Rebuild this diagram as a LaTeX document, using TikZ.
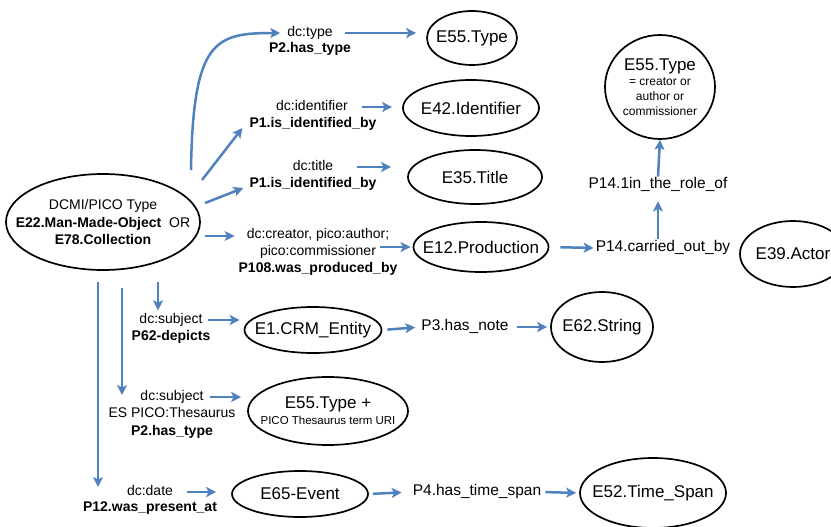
\documentclass[tikz,border=0pt]{standalone}
\usepackage{fontspec}
\setmainfont{Liberation Sans}
\usetikzlibrary{shapes.geometric,arrows.meta}
\definecolor{linkblue}{RGB}{79,129,189}

\tikzset{
    ent/.style={draw, ellipse, line width=1.7pt, inner xsep=-30pt, inner ysep=0pt,
        align=center, font=\fontsize{17}{20}\selectfont},
    lbl/.style={inner sep=1pt, text height=10pt, text depth=3pt, font=\fontsize{14}{17}\selectfont},
    rel/.style={inner sep=1pt, text height=11pt, text depth=3.5pt, font=\fontsize{15.5}{18}\selectfont},
    link/.style={draw=linkblue, line width=2.5pt, shorten <=4pt, shorten >=4pt,
        -{Stealth[length=10pt,width=10pt,inset=2.5pt]}},
}

\begin{document}
\begin{tikzpicture}[x=1pt,y=-1pt]
    \useasboundingbox (0,0) rectangle (831,527);
    % The classes (ellipses).
        \node[ent, minimum width=194pt, minimum height=96pt, font=\fontsize{14}{17.5}\selectfont] (main) at (103,222)
            {DCMI/PICO Type\\\textbf{E22.Man-Made-Object}\ \ OR\\\textbf{E78.Collection}};
        \node[ent, minimum width=90pt, minimum height=54pt] (type) at (472,38) {E55.Type};
        \node[ent, minimum width=136pt, minimum height=56pt] (ident) at (471,108) {E42.Identifier};
        \node[ent, minimum width=134pt, minimum height=54pt] (title) at (475,177) {E35.Title};
        \node[ent, minimum width=135pt, minimum height=50pt] (prod) at (481,247) {E12.Production};
        \node[ent, minimum width=110pt, minimum height=104pt, font=\fontsize{12}{15}\selectfont] (role) at (660,87)
            {{\fontsize{17}{20}\selectfont E55.Type}\\= creator or\\author or\\commissioner};
        \node[ent, minimum width=106pt, minimum height=66pt] (actor) at (793,254) {E39.Actor};
        \node[ent, minimum width=137pt, minimum height=46pt] (crm) at (313,330) {E1.CRM\_Entity};
        \node[ent, minimum width=102pt, minimum height=70pt] (string) at (602,327) {E62.String};
        \node[ent, minimum width=160pt, minimum height=68pt, font=\fontsize{11.5}{16}\selectfont] (thes) at (328,411)
            {{\fontsize{17}{20}\selectfont E55.Type +}\\PICO Thesaurus term URI};
        \node[ent, minimum width=136pt, minimum height=46pt] (event) at (300,494) {E65-Event};
        \node[ent, minimum width=146pt, minimum height=70pt] (span) at (653,493) {E52.Time\_Span};
    % Below nodes are the property labels.
        \node[lbl] (typea) at (310,33) {dc:type};
        \node[lbl] (typeb) at (310,49) {\textbf{P2.has\_type}};
        \node[lbl] (identa) at (312,107) {dc:identifier};
        \node[lbl] (identb) at (313,124) {\textbf{P1.is\_identified\_by}};
        \node[lbl] (titlea) at (313,167) {dc:title};
        \node[lbl] (titleb) at (313,184) {\textbf{P1.is\_identified\_by}};
        \node[lbl] (proda) at (318,235) {dc:creator, pico:author;};
        \node[lbl] (prodb) at (318,252) {pico:commissioner};
        \node[lbl] (prodc) at (318,269) {\textbf{P108.was\_produced\_by}};
        \node[lbl] (depa) at (171,320) {dc:subject};
        \node[lbl] (depb) at (171,337) {\textbf{P62-depicts}};
        \node[lbl] (thesa) at (172,397) {dc:subject};
        \node[lbl] (thesb) at (172,414) {ES PICO:Thesaurus};
        \node[lbl] (thesc) at (172,432) {\textbf{P2.has\_type}};
        \node[lbl] (datea) at (150,492) {dc:date};
        \node[lbl] (dateb) at (150,508) {\textbf{P12.was\_present\_at}};
        \node[rel] (carried) at (663,248) {P14.carried\_out\_by};
        \node[rel] (roleof) at (658,185) {P14.1in\_the\_role\_of};
        \node[rel] (note) at (465,327) {P3.has\_note};
        \node[rel] (tspan) at (477,492) {P4.has\_time\_span};
    % Where the arrows leave the main class.
        \coordinate (otype) at (191,170);
        \coordinate (oident) at (202,180);
        \coordinate (otitle) at (205,203);
        \coordinate (oprod) at (205,236);
        \coordinate (odate) at (98,282);
        \coordinate (othes) at (122,288);
        \coordinate (odep) at (158,282);
    % Arrows out of the main class.
        \draw[link, shorten <=0pt, shorten >=6pt] (otype) .. controls (193,40) and (215,33) .. (typea.west);
        \draw[link, shorten <=0pt, shorten >=0pt] (oident) -- ([xshift=-6pt,yshift=-4pt]identb.west);
        \draw[link, shorten <=0pt, shorten >=0pt] (otitle) -- ([xshift=-5pt,yshift=-4pt]titleb.west);
        \draw[link, shorten <=0pt, shorten >=11pt] (oprod) -- (oprod -| proda.west);
        \draw[link, shorten <=0pt, shorten >=2pt] (odep) -- (odep |- depa.north);
        \draw[link, shorten <=0pt, shorten >=2pt] (othes) -- (othes |- thesa);
        \draw[link, shorten <=0pt, shorten >=5pt] (odate) -- (odate |- datea);
    % Arrows from the labels to the classes.
        \draw[link, shorten <=11pt, shorten >=10pt] (typea.east) -- (typea.east -| type.west);
        \draw[link, shorten <=13pt, shorten >=10pt] (identa.east) -- (identa.east -| ident.west);
        \draw[link, shorten <=23pt, shorten >=16pt] (titlea.east) -- (titlea.east -| title.west);
        \draw[link, shorten <=3pt, shorten >=2pt] (prodb.east |- prod) -- (prod.west);
        \draw[link, shorten <=11pt, shorten >=1pt] (prod.east) -- (carried.west);
        \draw[link, shorten <=1pt, shorten >=8pt] (carried.north -| roleof) -- (roleof.south);
        \draw[link, shorten <=0pt, shorten >=0pt] (roleof.north) -- (role.south);
        \draw[link, shorten <=4pt, shorten >=4pt] (depa.east) -- (depa.east -| crm.west);
        \draw[link, shorten <=5pt, shorten >=5pt] (crm.east) -- (note.west);
        \draw[link, shorten <=7pt, shorten >=3pt] (note.east) -- (string.west);
        \draw[link, shorten <=5pt, shorten >=6pt] (thesa.east) -- (thesa.east -| thes.west);
        \draw[link, shorten <=13pt, shorten >=15pt] (datea.east) -- (datea.east -| event.west);
        \draw[link, shorten <=4pt, shorten >=10pt] (event.east) -- (tspan.west);
        \draw[link, shorten <=3pt, shorten >=3pt] (tspan.east) -- (span.west);
\end{tikzpicture}
\end{document}
